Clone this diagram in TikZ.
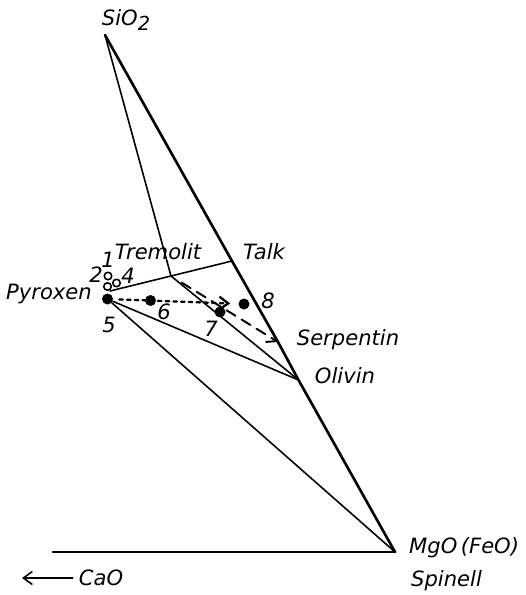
\documentclass[tikz,border=0pt]{standalone}
\usepackage{fontspec}
\setsansfont{DejaVu Sans}
\usetikzlibrary{arrows.meta}
\tikzset{
  every picture/.style={
    font=\sffamily\itshape\fontsize{12}{14}\selectfont,
    line join=round,
    line cap=round,
    >={Straight Barb[length=1.8mm,width=2.6mm]},
  },
  edge/.style={line width=1.5pt},         % sides of the triangle
  tie/.style={line width=0.9pt},          % tie lines between phases
  spot/.style={circle, fill, inner sep=0pt, minimum size=2.2mm},
  ring/.style={circle, draw, line width=0.9pt, fill=white, inner sep=0pt, minimum size=1.5mm},
}
\begin{document}
\begin{tikzpicture}
\useasboundingbox (0,0) rectangle (10.5,-11.9);
% corners and phase points
\coordinate (sio) at (2.10,-0.70);
\coordinate (mgo) at (7.90,-11.04);
\coordinate (talk) at (4.64,-5.22);
\coordinate (serp) at (5.56,-6.84);
\coordinate (oliv) at (5.97,-7.60);
\coordinate (trem) at (3.42,-5.52);
\coordinate (amph) at (2.20,-5.82);
\coordinate (cao) at (1.06,-11.04);
% analysed samples
\node[spot] (d5) at (2.15,-5.98) {};
\node[spot] (d6) at (3.01,-6.01) {};
\node[spot] (d7) at (4.40,-6.24) {};
\node[spot] (d8) at (4.88,-6.08) {};
% lines
\draw[edge] (sio) -- (talk) -- (serp) -- (oliv) -- (mgo);
\draw[edge] (cao) -- (mgo);
\draw[tie] (sio) -- (trem);
\draw[tie] (amph) -- (trem) -- (talk);
\draw[tie] (trem) -- (oliv);
\draw[tie] (d5) -- (oliv);
\draw[tie] (d5) -- (mgo);
\draw[->, line width=1.1pt, dash pattern=on 6pt off 4pt, shorten <=2.5mm] (trem) -- (serp);
\draw[->, line width=1.3pt, dash pattern=on 2pt off 2.4pt, shorten <=1.2mm, shorten >=1.6mm] (d5) -- (d8);
\node[ring] (d1) at (2.16,-5.52) {};
\node[ring] (d4) at (2.33,-5.66) {};
\node[ring] (d2) at (2.15,-5.73) {};
% labels
\node (lsio) at (2.52,-0.40) {SiO\raisebox{-0.5ex}{\fontsize{11}{12}\selectfont 2}};
\node (ltrem) at (3.16,-5.04) {Tremolit};
\node (ltalk) at (5.28,-5.04) {Talk};
\node (lpyr) at (0.98,-5.88) {Pyroxen};
\node (lserp) at (6.96,-6.80) {Serpentin};
\node (loliv) at (6.90,-7.52) {Olivin};
\node[anchor=west] (lmgo) at (8.06,-10.96) {MgO\,(FeO)};
\node[anchor=west] (lspin) at (8.10,-11.62) {Spinell};
\node (lcao) at (2.02,-11.56) {CaO};
\coordinate (caoend) at (0.44,-11.56);
\draw[->, tie] (lcao.west) -- (caoend);
\node (n1) at (2.16,-5.20) {1};
\node (n2) at (1.92,-5.50) {2};
\node (n4) at (2.56,-5.52) {4};
\node (n5) at (2.18,-6.50) {5};
\node (n6) at (3.28,-6.24) {6};
\node (n7) at (4.22,-6.58) {7};
\node (n8) at (5.36,-6.02) {8};
\end{tikzpicture}
\end{document}
